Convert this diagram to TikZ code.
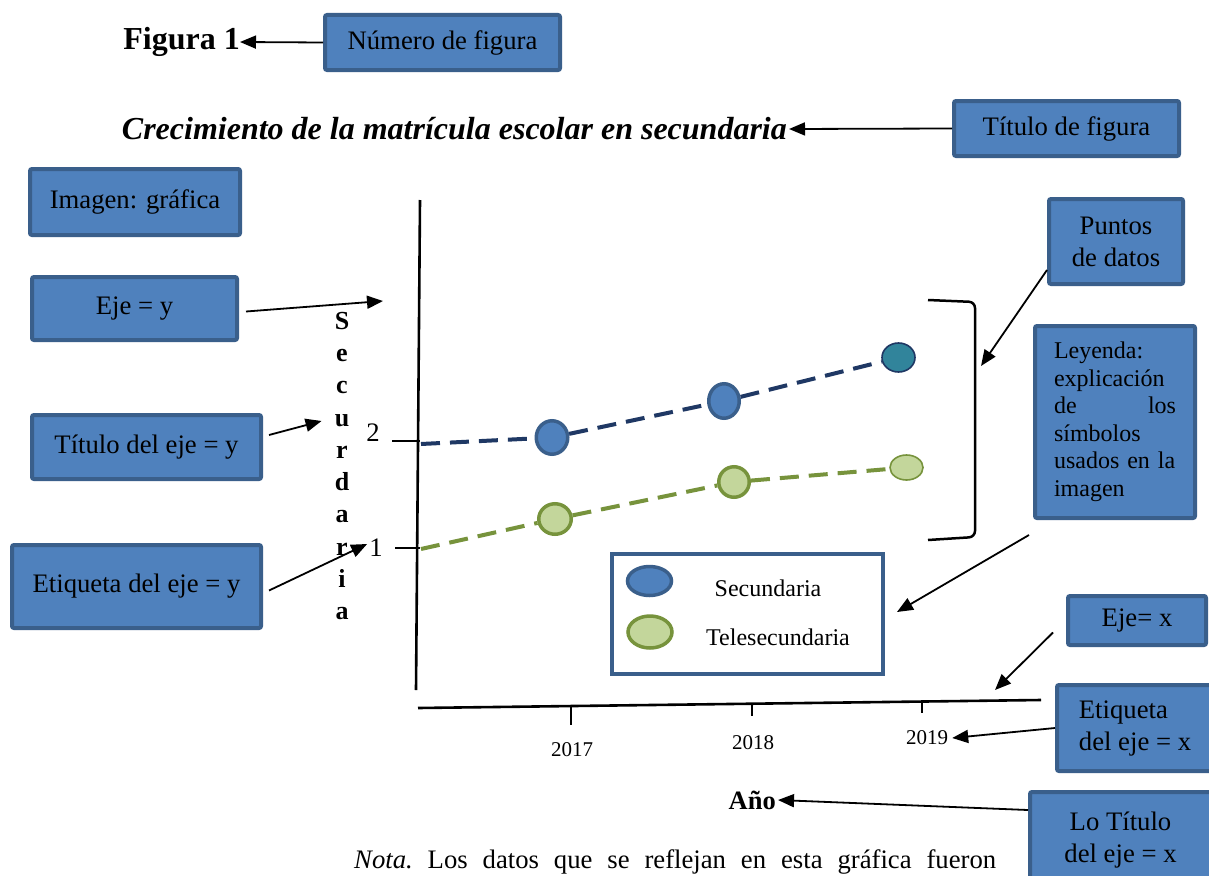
\documentclass[tikz,border=0pt]{standalone}
\usepackage{fontspec}
\setmainfont{Liberation Serif}
\usetikzlibrary{arrows.meta,shapes.geometric}
\definecolor{boxfill}{HTML}{4F81BD}
\definecolor{boxline}{HTML}{3A5F8B}
\definecolor{navy}{HTML}{1F3864}
\definecolor{tealdot}{HTML}{31849B}
\definecolor{lgreen}{HTML}{C3D69B}
\definecolor{dgreen}{HTML}{77933C}
\begin{document}
\begin{tikzpicture}[x=1pt,y=-1pt,
  lbl/.style={draw=boxline, fill=boxfill, line width=4pt, rounded corners=2pt,
    font=\fontsize{26.7}{32}\selectfont, align=center, inner sep=0pt},
  arr/.style={-{Triangle[length=16pt,width=13pt]}, line width=1.8pt},
  sdash/.style={draw=navy, line width=4pt, dash pattern=on 19pt off 10pt},
  tdash/.style={draw=dgreen, line width=4pt, dash pattern=on 19pt off 10pt},
  sdot/.style={ellipse, draw=boxline, fill=boxfill, line width=3.5pt, inner sep=0pt},
  tdot/.style={ellipse, draw=dgreen, fill=lgreen, line width=3.5pt, inner sep=0pt},
  axisline/.style={line width=2.6pt, draw=black},
  txt/.style={font=\fontsize{26.7}{32}\selectfont, inner sep=0pt}
]
\useasboundingbox (0,0) rectangle (1209,875);
\fill[white] (0,0) rectangle (1209,875);

% headings
\node[font=\bfseries\fontsize{32}{38}\selectfont, anchor=east, inner sep=0pt] (fig) at (240,42) {Figura 1};
\node[font=\bfseries\itshape\fontsize{32}{38}\selectfont, anchor=east, inner sep=0pt] (title) at (787,129) {Crecimiento de la matrícula escolar en secundaria};

% label boxes
\node[lbl, minimum width=235pt, minimum height=55pt] (numfig) at (442.5,42.5) {Número de figura};
\node[lbl, minimum width=225pt, minimum height=55pt] (titfig) at (1066.5,128.5) {Título de figura};
\node[lbl, minimum width=210pt, minimum height=66pt] (imagen) at (135,202) {Imagen: gráfica};
\node[lbl, minimum width=205pt, minimum height=63pt] (ejey) at (134.5,308.5) {Eje = y};
\node[lbl, minimum width=229pt, minimum height=64pt] (tity) at (146.5,447) {Título del eje = y};
\node[lbl, minimum width=249pt, minimum height=83pt] (etiy) at (136.5,586.5) {Etiqueta del eje = y};
\node[lbl, minimum width=134pt, minimum height=85pt] (puntos) at (1116,241.5) {Puntos\\de datos};
\node[lbl, minimum width=160pt, minimum height=192pt, text width=122pt, align=left,
      font=\fontsize{24}{27.5}\selectfont] (leyenda) at (1115,422)
      {Leyenda:\\explicación\\de \hfill los\\símbolos\\usados en la\\imagen};
\node[lbl, minimum width=138pt, minimum height=49pt] (ejex) at (1137,620.5) {Eje= x};
\node[lbl, minimum width=156pt, minimum height=86pt, align=left] (etix) at (1135,728) {Etiqueta\\del eje = x};
\node[lbl, minimum width=181pt, minimum height=96pt] (lotit) at (1120.5,840) {Lo Título\\del eje = x};

% axes
\draw[axisline] (420,200) -- (416,690);
\draw[axisline] (418,708) -- (1041,700);
\draw[line width=2.4pt] (392,441) -- (420,441);
\draw[line width=2.4pt] (395,548) -- (420,548);
\draw[line width=2.4pt] (571,706) -- (571,725);
\draw[line width=2.4pt] (752,704) -- (752,716);
\draw[line width=2.4pt] (922,700) -- (922,713);

\node[txt] (l2) at (373,433) {2};
\node[txt] (l1) at (376,548) {1};
\node[font=\fontsize{21}{25}\selectfont, inner sep=0pt] (y17) at (572,750) {2017};
\node[font=\fontsize{21}{25}\selectfont, inner sep=0pt] (y18) at (753,743) {2018};
\node[font=\fontsize{21}{25}\selectfont, inner sep=0pt] (y19) at (927,738) {2019};
\node[font=\bfseries\fontsize{26}{32.3}\selectfont, align=center, inner sep=0pt] (ytit) at (342,466)
  {S\\e\\c\\u\\r\\d\\a\\r\\i\\a};
\node[font=\bfseries\fontsize{26.5}{32}\selectfont, anchor=east, inner sep=0pt] (ano) at (776,800) {Año};

% data points
\node[sdot, minimum width=31.5pt, minimum height=33.5pt] (s1) at (552,437.5) {};
\node[sdot, minimum width=30.5pt, minimum height=34.5pt] (s2) at (724,401) {};
\node[ellipse, draw=navy, fill=tealdot, line width=1.6pt, inner sep=0pt, minimum width=33pt, minimum height=29pt] (s3) at (898.5,357.5) {};
\node[tdot, minimum width=32.5pt, minimum height=30.5pt] (t1) at (555,519) {};
\node[tdot, minimum width=30.5pt, minimum height=30.5pt] (t2) at (734,482) {};
\node[ellipse, draw=dgreen, fill=lgreen, line width=1.6pt, inner sep=0pt, minimum width=33pt, minimum height=25pt] (t3) at (906.5,467.5) {};

\coordinate (sstart) at (421,444);
\coordinate (tstart) at (421,549);
\draw[sdash] (sstart) -- (s1);
\draw[sdash] (s1) -- (s2);
\draw[sdash] (s2) -- (s3);
\draw[tdash] (tstart) -- (t1);
\draw[tdash] (t1) -- (t2);
\draw[tdash] (t2) -- (t3);

% bracket
\draw[line width=2.5pt, rounded corners=6pt] (928,300) -- (975,302) -- (975,537) -- (928,540);
\coordinate (bracketTip) at (981,366);

% legend
\node[draw=boxline, fill=white, line width=4pt, minimum width=271pt, minimum height=120pt, inner sep=0pt] (legend) at (747.5,614) {};
\node[sdot, minimum width=44pt, minimum height=29pt] (leg1) at (649.5,581) {};
\node[tdot, minimum width=44pt, minimum height=32pt] (leg2) at (650,632) {};
\node[font=\fontsize{24}{28}\selectfont, inner sep=0pt] (legt1) at (768,588) {Secundaria};
\node[font=\fontsize{24}{28}\selectfont, inner sep=0pt] (legt2) at (778,637) {Telesecundaria};

% note
\node[anchor=base west, inner sep=0pt, font=\fontsize{26.7}{32}\selectfont] (nota) at (354,868)
  {\frenchspacing\makebox[642pt][s]{\textit{Nota.} Los datos que se reflejan en esta gráfica fueron}};

% connectors
\coordinate (ejeyTip) at (383,301);
\coordinate (xaxisTip) at (995,690);
\draw[arr] (numfig.west) -- (fig.east);
\draw[arr] (titfig.west) -- ([xshift=2pt]title.east);
\draw[arr] ([xshift=7pt,yshift=-3pt]ejey.east) -- (ejeyTip);
\draw[arr] ([xshift=6pt,yshift=12pt]tity.east) -- ([xshift=-13pt,yshift=45pt]ytit.west);
\draw[arr] ([xshift=6pt,yshift=-4pt]etiy.east) -- ([xshift=-2pt,yshift=4pt]l1.west);
\draw[arr] ([yshift=16pt]puntos.south west) -- (bracketTip);
\draw[arr] ([xshift=-4pt,yshift=-15pt]leyenda.south west) -- ([xshift=12pt,yshift=2pt]legend.east);
\draw[arr] ([xshift=-13pt,yshift=-12pt]ejex.west) -- (xaxisTip);
\draw[arr] (etix.west) -- ([xshift=4pt]y19.east);
\draw[arr] ([yshift=30pt]lotit.west) -- ([xshift=2pt]ano.east);
\end{tikzpicture}
\end{document}
